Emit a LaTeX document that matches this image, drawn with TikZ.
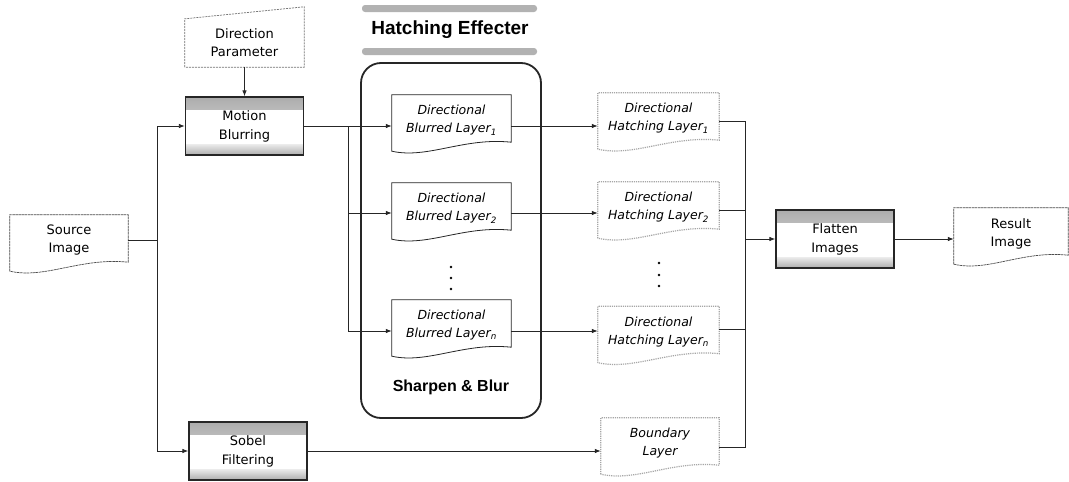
\documentclass[tikz,border=0pt]{standalone}
\usepackage{fontspec}
\setmainfont{DejaVu Sans}
\newfontfamily\titlefont{Liberation Sans}
\usetikzlibrary{arrows.meta,calc}
\tikzset{
  x=1pt, y=-1pt,
  conn/.style={draw=black!85, line width=0.8pt},
  arr/.style={conn, -{Latex[length=6pt,width=4.5pt]}},
  procbox/.style={draw=black!85, line width=1.3pt, minimum width=118pt, minimum height=58pt,
    inner sep=0pt, align=center, font=\fontsize{13}{19}\selectfont,
    path picture={
      \shade[top color=gray!65, bottom color=gray!15]
        (path picture bounding box.north west) rectangle ([yshift=-12pt]path picture bounding box.north east);
      \shade[top color=gray!15, bottom color=gray!65]
        ([yshift=11pt]path picture bounding box.south west) rectangle (path picture bounding box.south east);
    }},
  docnode/.style={minimum height=51pt, inner sep=0pt, align=center},
  plainlabel/.style={font=\fontsize{13}{18}\selectfont},
  layerlabel/.style={font=\fontsize{12.5}{18}\selectfont\itshape},
  blurline/.style={draw=black!85, line width=0.8pt},
  hatchline/.style={draw=gray!70, line width=1.2pt, densely dotted},
  srcline/.style={draw=black!70, line width=0.7pt, dash pattern=on 2.5pt off 0.6pt},
  paramline/.style={draw=black!55, line width=0.7pt, dash pattern=on 2pt off 1pt},
  titlebar/.style={fill=gray!60, rounded corners=3pt},
}
\newcommand\docoutline[2]{%
  \draw[#1] ($(#2.south west)+(0,5)$) -- (#2.north west) -- (#2.north east)
    -- ($(#2.south east)+(0,-4)$)
    .. controls ($(#2.south west)!0.6!(#2.south east)+(0,-9)$)
       and ($(#2.south west)!0.3!(#2.south east)+(0,13)$) .. ($(#2.south west)+(0,5)$) -- cycle;}
\begin{document}
\begin{tikzpicture}
\useasboundingbox[fill=white] (0,0) rectangle (1069,482);

% title and frame
\fill[titlebar] (362,5) rectangle (537,12);
\fill[titlebar] (362,48) rectangle (537,55);
\node[font=\titlefont\bfseries\fontsize{19}{22}\selectfont] (title) at (450,30) {Hatching Effecter};
\node[draw=black!85, line width=1.8pt, rounded corners=20pt, minimum width=180pt,
      minimum height=355pt, inner sep=0pt] (he) at (451,240.5) {};
\node[font=\titlefont\bfseries\fontsize{16}{19}\selectfont] (sb) at (451,387) {Sharpen \& Blur};

% direction parameter
\node[docnode, minimum width=119pt, minimum height=48pt, plainlabel] (dp) at (244.5,43) {Direction\\Parameter};
\draw[paramline] (dp.south west) -- (dp.north west) -- ($(dp.north east)+(0,-12)$) -- (dp.south east) -- cycle;

% process boxes
\node[procbox] (mb) at (244.5,126) {Motion\\Blurring};
\node[procbox] (sob) at (248,451) {Sobel\\Filtering};
\node[procbox] (fl) at (835,239) {Flatten\\Images};

% documents
\node[docnode, minimum width=118pt, plainlabel] (src) at (69,240.5) {Source\\Image};
\docoutline{srcline}{src}
\node[docnode, minimum width=114pt, plainlabel] (res) at (1011,233.5) {Result\\Image};
\docoutline{srcline}{res}

\node[docnode, minimum width=119pt, layerlabel] (b1) at (451.5,120.5) {Directional\\Blurred Layer\textsubscript{1}};
\node[docnode, minimum width=119pt, layerlabel] (b2) at (451.5,208.5) {Directional\\Blurred Layer\textsubscript{2}};
\node[docnode, minimum width=119pt, layerlabel] (bn) at (451.5,325.5) {Directional\\Blurred Layer\textsubscript{n}};
\docoutline{blurline}{b1}
\docoutline{blurline}{b2}
\docoutline{blurline}{bn}

\node[docnode, minimum width=121pt, layerlabel] (h1) at (658.5,118.5) {Directional\\Hatching Layer\textsubscript{1}};
\node[docnode, minimum width=121pt, layerlabel] (h2) at (658.5,207.5) {Directional\\Hatching Layer\textsubscript{2}};
\node[docnode, minimum width=121pt, layerlabel] (hn) at (658.5,332) {Directional\\Hatching Layer\textsubscript{n}};
\node[docnode, minimum width=118pt, layerlabel] (hb) at (660,443.5) {Boundary\\Layer};
\docoutline{hatchline}{h1}
\docoutline{hatchline}{h2}
\docoutline{hatchline}{hn}
\docoutline{hatchline}{hb}

% dots
\foreach \yy in {267,278,289} \fill (451,\yy) circle (1.4pt);
\foreach \yy in {263,275,286} \fill (659,\yy) circle (1.4pt);

% connectors
\draw[arr] (dp.south) -- (mb.north);
\coordinate (j1) at (157,240.5);
\draw[conn] (src.east) -- (j1);
\draw[arr] (j1) |- (mb.west);
\draw[arr] (j1) |- (sob.west);

\coordinate (j2) at (348,126);
\draw[arr] (mb.east) -- (mb.east -| b1.west);
\draw[arr] (j2) |- ([yshift=-4.5pt]b2.west);
\draw[arr] (j2) |- ([yshift=-5.5pt]bn.west);

\draw[arr] ([yshift=-5.5pt]b1.east) -- ([yshift=-5.5pt]b1.east -| h1.west);
\draw[arr] ([yshift=-4.5pt]b2.east) -- ([yshift=-4.5pt]b2.east -| h2.west);
\draw[arr] ([yshift=-5.5pt]bn.east) -- ([yshift=-5.5pt]bn.east -| hn.west);
\draw[arr] (sob.east) -- (sob.east -| hb.west);

\coordinate (col) at (745,239);
\draw[conn] ([yshift=-2.5pt]h1.east) -| (col);
\draw[conn] ([yshift=-2.5pt]h2.east) -| (col);
\draw[conn] ([yshift=3pt]hn.east) -| (col);
\draw[conn] ([yshift=-3.5pt]hb.east) -| (col);
\draw[arr] (col) -- (fl.west);
\draw[arr] (fl.east) -- (fl.east -| res.west);
\end{tikzpicture}
\end{document}
